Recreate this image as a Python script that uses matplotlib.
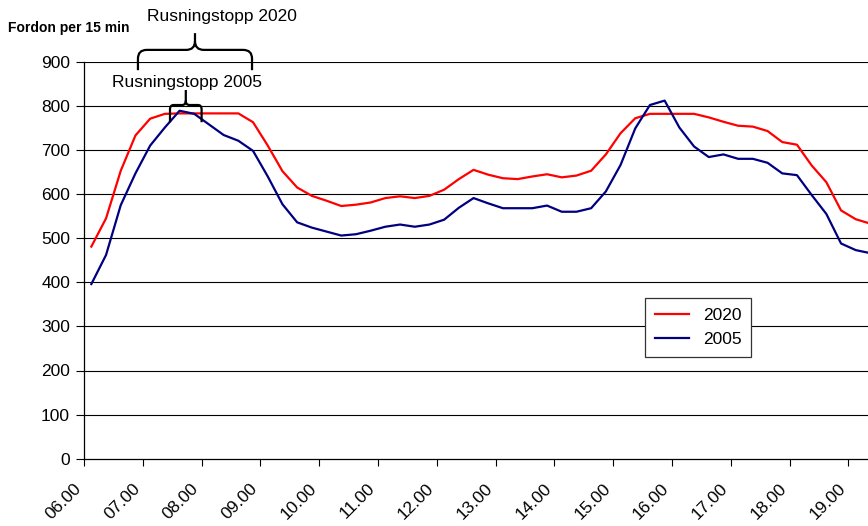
import numpy as np
import matplotlib
matplotlib.use("Agg")
import matplotlib.pyplot as plt
from matplotlib.path import Path
from matplotlib.patches import PathPatch

plt.rcParams['font.family'] = ['Liberation Sans', 'DejaVu Sans']

# 15-minute counts, 06.00 onwards
traffic_2020 = [481, 545, 653, 733, 771, 782, 783, 783, 783, 783, 783, 763, 710, 652,
                615, 596, 585, 573, 576, 581, 591, 595, 591, 596, 610, 634, 655, 644,
                636, 634, 640, 645, 638, 642, 653, 690, 738, 772, 782, 782, 782, 782,
                774, 764, 755, 753, 743, 718, 712, 665, 627, 563, 543, 533]
traffic_2005 = [396, 462, 575, 647, 710, 751, 789, 782, 758, 734, 721, 698, 640, 577,
                536, 524, 515, 506, 509, 517, 526, 531, 526, 531, 542, 569, 591, 579,
                568, 568, 568, 574, 560, 560, 568, 606, 666, 749, 802, 812, 751, 708,
                684, 690, 680, 680, 671, 647, 643, 598, 555, 488, 473, 466]
hour_labels = ["06.00", "07.00", "08.00", "09.00", "10.00", "11.00", "12.00",
               "13.00", "14.00", "15.00", "16.00", "17.00", "18.00", "19.00"]
y_ticks = [0, 100, 200, 300, 400, 500, 600, 700, 800, 900]

RED = "#ff0000"
NAVY = "#000080"

fig = plt.figure(figsize=(8.68, 5.26), dpi=100)
ax = fig.add_axes([84 / 868, 1 - 458.7 / 526, 1 - 84 / 868, (458.7 - 61.8) / 526])

x = np.arange(len(traffic_2020)) + 0.5
ax.plot(x, traffic_2020, color=RED, lw=1.6, label="2020", zorder=3)
ax.plot(x, traffic_2005, color=NAVY, lw=1.6, label="2005", zorder=3)

ax.set_xlim(0, (868 - 84) / 14.7)
ax.set_ylim(0, 900)
ax.set_yticks(y_ticks)
ax.set_yticklabels([str(v) for v in y_ticks], fontsize=12.5)
ax.set_xticks(np.arange(len(hour_labels)) * 4)
ax.set_xticklabels(hour_labels, fontsize=12.5, rotation=45, ha="right", va="top")
ax.tick_params(axis="x", length=5, width=0.8, pad=11)
ax.tick_params(axis="y", length=6, width=0.8, pad=4)

for v in y_ticks[1:]:
    ax.axhline(v, color="black", lw=0.8, zorder=1)

for s in ["top", "right"]:
    ax.spines[s].set_visible(False)
for s in ["left", "bottom"]:
    ax.spines[s].set_color("black")
    ax.spines[s].set_linewidth(0.9)


def brace(ax, x0, x1, yb, ym, yt, rx, ry):
    xc = (x0 + x1) / 2
    verts = [(x0, yb), (x0, ym - ry), (x0, ym), (x0 + rx, ym),
             (xc - rx, ym), (xc, ym), (xc, ym + ry), (xc, yt),
             (xc, ym + ry), (xc, ym), (xc + rx, ym),
             (x1 - rx, ym), (x1, ym), (x1, ym - ry), (x1, yb)]
    codes = [Path.MOVETO, Path.LINETO, Path.CURVE3, Path.CURVE3,
             Path.LINETO, Path.CURVE3, Path.CURVE3, Path.LINETO,
             Path.MOVETO, Path.CURVE3, Path.CURVE3,
             Path.LINETO, Path.CURVE3, Path.CURVE3, Path.LINETO]
    ax.add_patch(PathPatch(Path(verts, codes), fill=False, color="black",
                           lw=1.6, clip_on=False, zorder=5))


# peak-hour brackets
brace(ax, 3.67, 11.43, 881, 927, 965, 0.6, 20)
brace(ax, 5.85, 8.0, 763, 802, 836, 0.25, 10)
ax.text(9.39, 1002, "Rusningstopp 2020", fontsize=12.5, ha="center", va="center",
        clip_on=False)
ax.text(7.04, 854, "Rusningstopp 2005", fontsize=12.5, ha="center", va="center",
        clip_on=False)

fig.text(8 / 868, 1 - 28 / 526, "Fordon per 15 min", fontsize=10, fontweight="bold",
         ha="left", va="center")

leg = ax.legend(loc="upper left", bbox_to_anchor=(645 / 868, 1 - 298 / 526),
                bbox_transform=fig.transFigure, fontsize=12.5, frameon=True,
                fancybox=False, edgecolor="#333333", framealpha=1,
                handlelength=2.0, labelspacing=0.55, borderpad=0.55, borderaxespad=0)
leg.get_frame().set_linewidth(0.9)

fig.savefig("out.png", dpi=100)
